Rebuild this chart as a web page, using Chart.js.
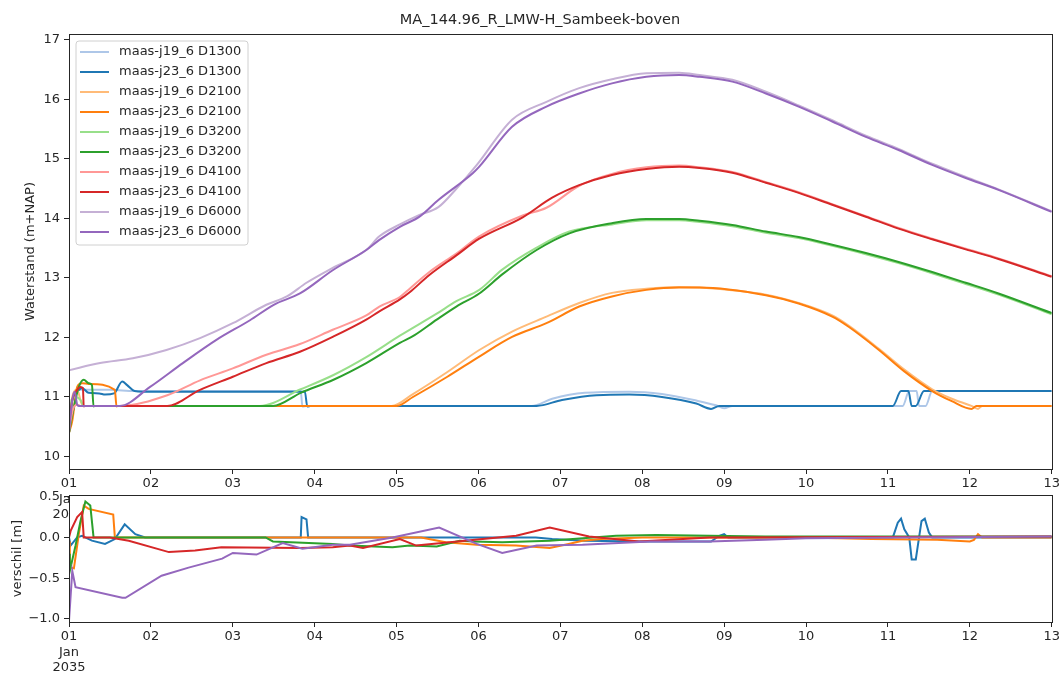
<!DOCTYPE html>
<html>
<head>
<meta charset="utf-8">
<script src="https://cdn.jsdelivr.net/npm/chart.js@4.4.0/dist/chart.umd.min.js"></script>
<style>
  body { margin: 0; background: #fff; }
  #wrap { position: relative; width: 1062px; height: 673px; overflow: hidden; }
  #top { position: absolute; left: 0; top: 0; }
  #bottom { position: absolute; left: 0; top: 470px; }
</style>
</head>
<body>
<div id="wrap">
  <canvas id="top" width="1062" height="530"></canvas>
  <canvas id="bottom" width="1062" height="203"></canvas>
</div>
<script>
// x = days after 01 Jan 2035 00:00
const dayLabels = ['01', '02', '03', '04', '05', '06', '07', '08', '09', '10', '11', '12', '13'];
const firstDayLabel = ['01', 'Jan', '2035'];
const levelTicks = [10, 11, 12, 13, 14, 15, 16, 17];
const diffTicks = [-1.0, -0.5, 0.0, 0.5];

const seriesNames = [
  'maas-j19_6 D1300', 'maas-j23_6 D1300',
  'maas-j19_6 D2100', 'maas-j23_6 D2100',
  'maas-j19_6 D3200', 'maas-j23_6 D3200',
  'maas-j19_6 D4100', 'maas-j23_6 D4100',
  'maas-j19_6 D6000', 'maas-j23_6 D6000'
];

// waterstand (m+NAP)
const t_j19_D1300 = [0, 0.05, 0.12, 0.5, 0.8, 2.83, 2.85, 2.9, 5.65, 5.9, 6.3, 6.84, 7.24, 7.66, 7.9, 8.0, 8.1, 10.18, 10.26, 10.35, 10.38, 10.46, 10.54, 12];
const h_j19_D1300 = [10.4, 11.0, 11.12, 11.12, 11.1, 11.1, 10.84, 10.85, 10.85, 10.97, 11.07, 11.09, 11.05, 10.94, 10.86, 10.81, 10.85, 10.85, 11.1, 11.1, 10.85, 10.85, 11.1, 11.1];
const t_j23_D1300 = [0, 0.04, 0.1, 0.16, 0.24, 0.37, 0.44, 0.55, 0.65, 0.71, 0.8, 0.9, 2.88, 2.91, 2.95, 5.71, 6.02, 6.44, 6.84, 7.24, 7.66, 7.84, 7.94, 10.06, 10.16, 10.25, 10.29, 10.34, 10.44, 12];
const h_j23_D1300 = [10.4, 10.95, 11.09, 11.15, 11.07, 11.06, 11.04, 11.06, 11.26, 11.2, 11.1, 11.09, 11.09, 10.84, 10.85, 10.85, 10.95, 11.03, 11.04, 11.0, 10.89, 10.8, 10.85, 10.85, 11.1, 11.1, 10.85, 10.85, 11.1, 11.1];

const t_j19_D2100 = [0, 0.04, 0.1, 0.15, 0.18, 3.94, 4.2, 4.62, 5.01, 5.41, 5.83, 6.23, 6.63, 7.05, 7.45, 7.7, 8.51, 8.91, 9.32, 9.52, 9.89, 10.2, 10.54, 10.78, 11.02, 11.1, 11.15, 12];
const h_j19_D2100 = [10.4, 11.0, 11.12, 10.9, 10.85, 10.85, 11.05, 11.42, 11.79, 12.1, 12.35, 12.58, 12.75, 12.82, 12.85, 12.84, 12.72, 12.58, 12.37, 12.2, 11.81, 11.46, 11.13, 10.97, 10.85, 10.8, 10.85, 10.85];
const t_j23_D2100 = [0, 0.04, 0.1, 0.16, 0.24, 0.56, 0.58, 0.6, 4.0, 4.2, 4.62, 5.01, 5.41, 5.83, 6.23, 6.63, 7.05, 7.45, 7.7, 8.51, 8.91, 9.32, 9.52, 9.89, 10.2, 10.54, 10.78, 11.02, 11.08, 12];
const h_j23_D2100 = [10.4, 10.6, 11.17, 11.23, 11.22, 11.12, 10.84, 10.85, 10.85, 11.0, 11.34, 11.68, 12.01, 12.24, 12.52, 12.69, 12.8, 12.84, 12.84, 12.71, 12.57, 12.35, 12.18, 11.79, 11.43, 11.1, 10.93, 10.8, 10.85, 10.85];

const t_j19_D3200 = [0, 0.03, 0.08, 0.14, 0.18, 2.33, 2.83, 3.23, 3.63, 4.04, 4.49, 4.73, 5.01, 5.29, 5.71, 6.11, 6.63, 7.05, 7.45, 7.7, 8.1, 8.51, 8.91, 9.32, 9.73, 10.13, 10.54, 10.95, 11.35, 12];
const h_j19_D3200 = [10.4, 10.95, 11.0, 10.95, 10.85, 10.85, 11.13, 11.37, 11.67, 12.03, 12.4, 12.61, 12.8, 13.14, 13.51, 13.78, 13.9, 13.97, 13.97, 13.94, 13.87, 13.76, 13.67, 13.54, 13.4, 13.25, 13.08, 12.9, 12.72, 12.39];
const t_j23_D3200 = [0, 0.04, 0.12, 0.18, 0.24, 0.28, 0.3, 0.32, 2.49, 2.83, 3.23, 3.63, 4.04, 4.22, 4.49, 4.73, 5.01, 5.29, 5.71, 6.11, 6.63, 7.05, 7.45, 7.7, 8.1, 8.51, 8.91, 9.32, 9.73, 10.13, 10.54, 10.95, 11.35, 12];
const h_j23_D3200 = [10.4, 10.7, 11.17, 11.29, 11.23, 11.2, 10.84, 10.85, 10.85, 11.07, 11.29, 11.57, 11.91, 12.04, 12.3, 12.52, 12.74, 13.06, 13.47, 13.75, 13.92, 13.99, 13.99, 13.96, 13.89, 13.78, 13.69, 13.56, 13.42, 13.27, 13.1, 12.92, 12.74, 12.41];

const t_j19_D4100 = [0, 0.05, 0.1, 0.15, 0.62, 1.2, 1.6, 2.0, 2.41, 2.82, 3.22, 3.63, 3.79, 4.04, 4.16, 4.4, 4.73, 5.01, 5.54, 5.83, 6.23, 6.63, 7.05, 7.45, 7.7, 8.1, 8.51, 8.91, 9.32, 9.73, 10.13, 10.54, 10.95, 11.35, 12];
const h_j19_D4100 = [10.45, 10.8, 10.87, 10.85, 10.85, 11.03, 11.28, 11.48, 11.71, 11.89, 12.13, 12.37, 12.52, 12.68, 12.82, 13.1, 13.41, 13.7, 14.05, 14.18, 14.55, 14.75, 14.86, 14.89, 14.86, 14.78, 14.61, 14.44, 14.24, 14.04, 13.84, 13.66, 13.49, 13.33, 13.03];
const t_j23_D4100 = [0, 0.04, 0.1, 0.14, 0.17, 0.18, 0.2, 1.2, 1.6, 2.0, 2.41, 2.82, 3.22, 3.63, 3.79, 4.04, 4.16, 4.4, 4.73, 5.01, 5.54, 5.9, 6.23, 6.63, 7.05, 7.45, 7.7, 8.1, 8.51, 8.91, 9.32, 9.73, 10.13, 10.54, 10.95, 11.35, 12];
const h_j23_D4100 = [10.55, 10.95, 11.12, 11.17, 11.15, 10.84, 10.85, 10.85, 11.12, 11.34, 11.57, 11.76, 12.01, 12.3, 12.44, 12.64, 12.76, 13.05, 13.38, 13.66, 14.02, 14.35, 14.56, 14.73, 14.83, 14.87, 14.85, 14.77, 14.6, 14.43, 14.23, 14.03, 13.83, 13.65, 13.48, 13.32, 13.02];

const t_j19_D6000 = [0, 0.38, 0.78, 1.19, 1.6, 2.0, 2.41, 2.66, 2.9, 3.22, 3.63, 3.79, 4.04, 4.28, 4.51, 4.73, 4.98, 5.41, 5.83, 6.23, 6.63, 7.05, 7.45, 7.7, 8.1, 8.51, 8.91, 9.32, 9.73, 10.13, 10.54, 10.95, 11.35, 12];
const h_j19_D6000 = [11.45, 11.57, 11.65, 11.79, 11.99, 12.24, 12.55, 12.69, 12.92, 13.17, 13.47, 13.7, 13.9, 14.06, 14.19, 14.5, 14.9, 15.66, 15.96, 16.19, 16.34, 16.44, 16.45, 16.41, 16.33, 16.13, 15.9, 15.65, 15.39, 15.17, 14.92, 14.7, 14.49, 14.12];
const t_j23_D6000 = [0, 0.04, 0.07, 0.1, 0.12, 0.62, 0.99, 1.39, 1.8, 2.21, 2.5, 2.82, 3.22, 3.63, 3.79, 4.04, 4.28, 4.51, 4.93, 5.01, 5.41, 5.83, 6.23, 6.63, 7.05, 7.45, 7.7, 8.1, 8.51, 8.91, 9.32, 9.73, 10.13, 10.54, 10.95, 11.35, 12];
const h_j23_D6000 = [10.4, 10.95, 11.09, 10.87, 10.85, 10.85, 11.17, 11.57, 11.96, 12.29, 12.55, 12.74, 13.13, 13.47, 13.64, 13.86, 14.03, 14.31, 14.76, 14.87, 15.54, 15.88, 16.1, 16.27, 16.38, 16.41, 16.38, 16.3, 16.1, 15.88, 15.63, 15.37, 15.15, 14.9, 14.68, 14.48, 14.11];

// verschil j23 - j19 [m]
const diffNames = ['D1300', 'D2100', 'D3200', 'D4100', 'D6000'];
const dt_D1300 = [0, 0.02, 0.1, 0.16, 0.28, 0.44, 0.56, 0.68, 0.81, 0.93, 2.83, 2.84, 2.9, 2.92, 5.7, 5.9, 6.3, 7.0, 7.7, 7.84, 7.94, 8.0, 8.05, 10.06, 10.12, 10.16, 10.2, 10.26, 10.29, 10.34, 10.38, 10.41, 10.45, 10.5, 10.54, 12];
const dv_D1300 = [0, -0.1, 0.0, 0.02, -0.04, -0.08, -0.02, 0.16, 0.04, 0, 0, 0.25, 0.22, 0, 0, -0.02, -0.04, -0.05, -0.05, -0.05, 0.02, 0.04, 0, 0, 0.18, 0.23, 0.1, 0, -0.27, -0.27, 0, 0.2, 0.23, 0.06, 0, 0];
const dt_D2100 = [0, 0.01, 0.06, 0.12, 0.18, 0.24, 0.54, 0.56, 4.3, 4.6, 4.98, 5.46, 5.87, 6.1, 6.27, 6.5, 7.0, 9.0, 9.8, 10.6, 11.0, 11.05, 11.1, 11.15, 12];
const dv_D2100 = [-0.05, -0.37, -0.38, 0.04, 0.39, 0.35, 0.28, 0, 0, -0.06, -0.09, -0.1, -0.13, -0.08, -0.04, -0.02, 0, 0, -0.02, -0.03, -0.05, -0.03, 0.04, 0, 0];
const dt_D3200 = [0, 0.01, 0.08, 0.14, 0.2, 0.26, 0.3, 2.4, 2.49, 3.22, 3.43, 3.95, 4.16, 4.49, 4.77, 4.94, 5.29, 5.87, 6.68, 7.17, 7.82, 8.5, 12];
const dv_D3200 = [-0.2, -0.41, -0.1, 0.2, 0.44, 0.39, 0, 0, -0.05, -0.08, -0.1, -0.12, -0.1, -0.11, -0.04, -0.05, -0.06, -0.04, 0.02, 0.03, 0.02, 0.01, 0.01];
const dt_D4100 = [0, 0.02, 0.1, 0.16, 0.18, 0.5, 0.73, 1.22, 1.54, 1.86, 2.82, 3.22, 3.43, 3.59, 4.04, 4.24, 4.65, 5.05, 5.46, 5.87, 6.35, 6.96, 7.82, 12];
const dv_D4100 = [0, 0.08, 0.25, 0.31, 0, 0, -0.04, -0.18, -0.16, -0.12, -0.13, -0.12, -0.1, -0.13, -0.02, -0.1, -0.06, -0.02, 0.02, 0.12, 0.01, -0.05, 0, 0.01];
const dt_D6000 = [0, 0.04, 0.08, 0.65, 0.69, 1.13, 1.46, 1.87, 2.0, 2.29, 2.61, 2.85, 3.22, 3.43, 3.95, 4.52, 4.98, 5.29, 5.71, 6.27, 7.09, 7.82, 8.5, 9.0, 12];
const dv_D6000 = [-1.02, -0.41, -0.61, -0.74, -0.74, -0.47, -0.37, -0.26, -0.19, -0.21, -0.07, -0.14, -0.09, -0.09, 0, 0.12, -0.08, -0.19, -0.1, -0.09, -0.05, -0.05, -0.03, -0.01, 0.01];

// matplotlib tab20 pairs (light = j19, dark = j23)
const lineColors = ['#aec7e8', '#1f77b4', '#ffbb78', '#ff7f0e', '#98df8a', '#2ca02c', '#ff9896', '#d62728', '#c5b0d5', '#9467bd'];
const diffColors = ['#1f77b4', '#ff7f0e', '#2ca02c', '#d62728', '#9467bd'];

const topT = [t_j19_D1300, t_j23_D1300, t_j19_D2100, t_j23_D2100, t_j19_D3200, t_j23_D3200, t_j19_D4100, t_j23_D4100, t_j19_D6000, t_j23_D6000];
const topH = [h_j19_D1300, h_j23_D1300, h_j19_D2100, h_j23_D2100, h_j19_D3200, h_j23_D3200, h_j19_D4100, h_j23_D4100, h_j19_D6000, h_j23_D6000];
const diffT = [dt_D1300, dt_D2100, dt_D3200, dt_D4100, dt_D6000];
const diffV = [dv_D1300, dv_D2100, dv_D3200, dv_D4100, dv_D6000];

const FONT = '"DejaVu Sans", sans-serif';
const INK = '#262626';

const toPoints = (ts, vs) => ts.map((t, i) => ({ x: t, y: vs[i] }));

// axes box + optional white axes background (the lower axes covers part of the upper date label)
const axesFrame = {
  id: 'axesFrame',
  beforeDraw(chart, args, opts) {
    if (!opts.fill) return;
    const a = chart.chartArea;
    chart.ctx.save();
    chart.ctx.fillStyle = '#ffffff';
    chart.ctx.fillRect(a.left, a.top, a.right - a.left, a.bottom - a.top);
    chart.ctx.restore();
  },
  afterDraw(chart) {
    const a = chart.chartArea;
    const ctx = chart.ctx;
    ctx.save();
    ctx.strokeStyle = INK;
    ctx.lineWidth = 1;
    ctx.strokeRect(Math.round(a.left) + 0.5, Math.round(a.top) + 0.5, Math.round(a.right - a.left), Math.round(a.bottom - a.top));
    ctx.restore();
  }
};

// matplotlib style legend, upper left inside the axes
const innerLegend = {
  id: 'innerLegend',
  afterDatasetsDraw(chart) {
    const a = chart.chartArea;
    const ctx = chart.ctx;
    const x = a.left + 7, y = a.top + 7, w = 172, h = 204, r = 3;
    ctx.save();
    ctx.beginPath();
    ctx.moveTo(x + r, y);
    ctx.arcTo(x + w, y, x + w, y + h, r);
    ctx.arcTo(x + w, y + h, x, y + h, r);
    ctx.arcTo(x, y + h, x, y, r);
    ctx.arcTo(x, y, x + w, y, r);
    ctx.closePath();
    ctx.fillStyle = 'rgba(255,255,255,0.8)';
    ctx.fill();
    ctx.strokeStyle = '#d0d0d0';
    ctx.lineWidth = 1;
    ctx.stroke();
    ctx.font = '13px ' + FONT;
    ctx.textBaseline = 'middle';
    ctx.textAlign = 'left';
    seriesNames.forEach((name, i) => {
      const cy = y + 11 + i * 20;
      ctx.beginPath();
      ctx.moveTo(x + 4, cy);
      ctx.lineTo(x + 33, cy);
      ctx.strokeStyle = lineColors[i];
      ctx.lineWidth = 2;
      ctx.stroke();
      ctx.fillStyle = INK;
      ctx.fillText(name, x + 43, cy);
    });
    ctx.restore();
  }
};

const xAxis = (height) => ({
  type: 'linear',
  min: 0,
  max: 12,
  afterBuildTicks: (scale) => { scale.ticks = dayLabels.map((_, i) => ({ value: i })); },
  afterFit: (scale) => { scale.height = height; },
  grid: { drawOnChartArea: false, drawTicks: true, tickLength: 5, tickColor: INK },
  border: { display: false },
  ticks: {
    autoSkip: false,
    maxRotation: 0,
    padding: 2,
    color: INK,
    font: { family: FONT, size: 13 },
    callback: (v) => (v === 0 ? firstDayLabel : dayLabels[v])
  }
});

const yAxis = (min, max, tickValues, width, titleText, titlePad, fmt) => ({
  min: min,
  max: max,
  afterBuildTicks: (scale) => { scale.ticks = tickValues.map((v) => ({ value: v })); },
  afterFit: (scale) => { scale.width = width; },
  grid: { drawOnChartArea: false, drawTicks: true, tickLength: 5, tickColor: INK },
  border: { display: false },
  ticks: { padding: 4, color: INK, font: { family: FONT, size: 13 }, callback: fmt },
  title: { display: true, text: titleText, color: INK, font: { family: FONT, size: 13 }, padding: { top: titlePad, bottom: 0 } }
});

new Chart(document.getElementById('top'), {
  type: 'line',
  data: {
    datasets: seriesNames.map((name, i) => ({
      label: name,
      data: toPoints(topT[i], topH[i]),
      borderColor: lineColors[i],
      backgroundColor: lineColors[i],
      borderWidth: 2,
      pointRadius: 0,
      cubicInterpolationMode: 'monotone',
      order: seriesNames.length - i
    }))
  },
  options: {
    responsive: false,
    animation: false,
    events: [],
    layout: { padding: { left: 18, right: 0, top: 0, bottom: 0 } },
    plugins: {
      legend: { display: false },
      tooltip: { enabled: false },
      title: {
        display: true,
        text: 'MA_144.96_R_LMW-H_Sambeek-boven',
        color: INK,
        font: { family: FONT, size: 14.5, weight: 'normal' },
        padding: { top: 12, bottom: 4.6 }
      },
      axesFrame: { fill: false }
    },
    scales: {
      x: xAxis(61),
      y: yAxis(9.79, 17.1, levelTicks, 51, 'Waterstand (m+NAP)', 5, (v) => String(v))
    }
  },
  plugins: [axesFrame, innerLegend]
});

new Chart(document.getElementById('bottom'), {
  type: 'line',
  data: {
    datasets: diffNames.map((name, i) => ({
      label: name,
      data: toPoints(diffT[i], diffV[i]),
      borderColor: diffColors[i],
      backgroundColor: diffColors[i],
      borderWidth: 2,
      pointRadius: 0,
      tension: 0,
      order: diffNames.length - i
    }))
  },
  options: {
    responsive: false,
    animation: false,
    events: [],
    layout: { padding: { left: 0, right: 0, top: 25, bottom: 0 } },
    plugins: {
      legend: { display: false },
      tooltip: { enabled: false },
      axesFrame: { fill: true }
    },
    scales: {
      x: xAxis(51),
      y: yAxis(-1.037, 0.52, diffTicks, 69, 'verschil [m]', 10, (v) => v.toFixed(1).replace('-', '\u2212'))
    }
  },
  plugins: [axesFrame]
});
</script>
</body>
</html>
